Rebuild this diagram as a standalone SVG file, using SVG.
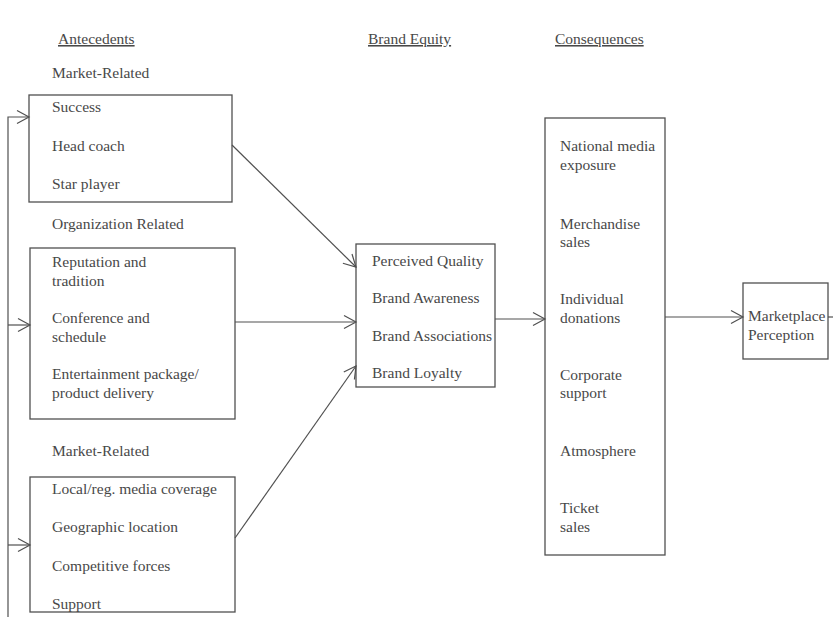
<svg xmlns="http://www.w3.org/2000/svg" width="833" height="617" viewBox="0 0 833 617">
<style>
text{font-family:"Liberation Serif","Times New Roman",serif;font-size:15.5px;fill:#484848}
.hd{text-decoration:underline}
.box{fill:none;stroke:#505050;stroke-width:1.3}
.ln{fill:none;stroke:#505050;stroke-width:1.2}
</style>
<defs>
<marker id="arr" markerUnits="userSpaceOnUse" markerWidth="16" markerHeight="16" refX="14" refY="8" orient="auto">
<path d="M2,1.5 L14,8 L2,14.5" fill="none" stroke="#505050" stroke-width="1.2"/>
</marker>
</defs>
<rect width="833" height="617" fill="#fff"/>
<g id="headers">
<text class="hd" x="58" y="44">Antecedents</text>
<text class="hd" x="368" y="44">Brand Equity</text>
<text class="hd" x="555" y="44">Consequences</text>
</g>
<g id="labels">
<text x="52" y="78">Market-Related</text>
<text x="52" y="229">Organization Related</text>
<text x="52" y="456">Market-Related</text>
</g>
<g id="market1">
<rect class="box" x="29" y="95" width="203" height="107"/>
<text x="52" y="112">Success</text>
<text x="52" y="151">Head coach</text>
<text x="52" y="189">Star player</text>
</g>
<g id="org">
<rect class="box" x="30" y="248" width="205" height="171"/>
<text x="52" y="267">Reputation and</text>
<text x="52" y="286">tradition</text>
<text x="52" y="323">Conference and</text>
<text x="52" y="342">schedule</text>
<text x="52" y="379">Entertainment package/</text>
<text x="52" y="398">product delivery</text>
</g>
<g id="market2">
<rect class="box" x="30" y="477" width="205" height="135"/>
<text x="52" y="494">Local/reg. media coverage</text>
<text x="52" y="532">Geographic location</text>
<text x="52" y="571">Competitive forces</text>
<text x="52" y="609">Support</text>
</g>
<g id="brandequity">
<rect class="box" x="356" y="244" width="139" height="143"/>
<text x="372" y="266">Perceived Quality</text>
<text x="372" y="303">Brand Awareness</text>
<text x="372" y="341">Brand Associations</text>
<text x="372" y="378">Brand Loyalty</text>
</g>
<g id="consequences">
<rect class="box" x="545" y="118" width="120" height="437"/>
<text x="560" y="151">National media</text>
<text x="560" y="170">exposure</text>
<text x="560" y="229">Merchandise</text>
<text x="560" y="247">sales</text>
<text x="560" y="304">Individual</text>
<text x="560" y="323">donations</text>
<text x="560" y="380">Corporate</text>
<text x="560" y="398">support</text>
<text x="560" y="456">Atmosphere</text>
<text x="560" y="513">Ticket</text>
<text x="560" y="532">sales</text>
</g>
<g id="marketplace">
<rect class="box" x="743" y="283" width="85" height="76"/>
<text x="748" y="321">Marketplace</text>
<text x="748" y="340">Perception</text>
</g>
<g id="connectors">
<line class="ln" x1="232" y1="145" x2="356" y2="267" marker-end="url(#arr)"/>
<line class="ln" x1="235" y1="322" x2="356" y2="322" marker-end="url(#arr)"/>
<line class="ln" x1="235" y1="538" x2="356" y2="366" marker-end="url(#arr)"/>
<line class="ln" x1="495" y1="319" x2="545" y2="319" marker-end="url(#arr)"/>
<line class="ln" x1="665" y1="317" x2="743" y2="317" marker-end="url(#arr)"/>
<line class="ln" x1="828" y1="317" x2="833" y2="317"/>
<path class="ln" d="M8,617 V117 H29" marker-end="url(#arr)"/>
<line class="ln" x1="8" y1="325" x2="30" y2="325" marker-end="url(#arr)"/>
<line class="ln" x1="8" y1="545" x2="30" y2="545" marker-end="url(#arr)"/>
</g>
</svg>
